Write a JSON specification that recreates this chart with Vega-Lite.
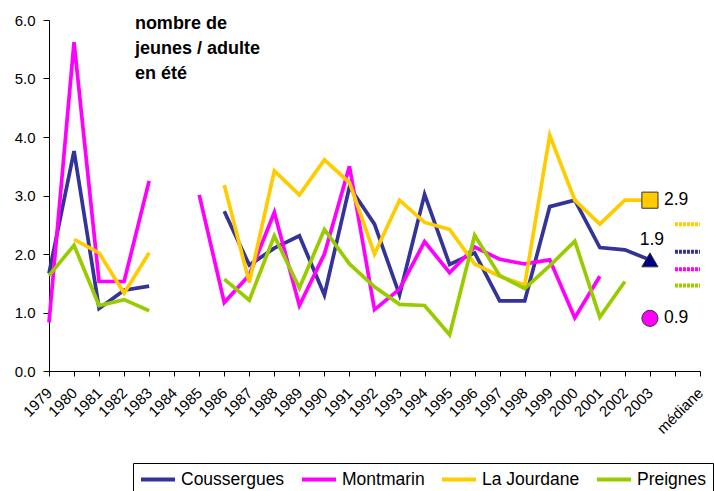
{
  "$schema": "https://vega.github.io/schema/vega-lite/v6.json",
  "width": 651,
  "height": 351,
  "autosize": {"type": "none"},
  "padding": {"left": 49, "top": 20, "right": 14, "bottom": 120},
  "background": "white",
  "config": {
    "view": {"stroke": null},
    "font": "Liberation Sans",
    "axis": {"domainColor": "black", "tickColor": "black", "labelColor": "black", "grid": false, "labelFont": "Liberation Sans"}
  },
  "datasets": {
    "series": [
      {"year": 1979, "site": "Coussergues", "value": 1.67},
      {"year": 1980, "site": "Coussergues", "value": 3.76},
      {"year": 1981, "site": "Coussergues", "value": 1.07},
      {"year": 1982, "site": "Coussergues", "value": 1.38},
      {"year": 1983, "site": "Coussergues", "value": 1.45},
      {"year": 1984, "site": "Coussergues", "value": null},
      {"year": 1985, "site": "Coussergues", "value": null},
      {"year": 1986, "site": "Coussergues", "value": 2.73},
      {"year": 1987, "site": "Coussergues", "value": 1.81},
      {"year": 1988, "site": "Coussergues", "value": 2.1},
      {"year": 1989, "site": "Coussergues", "value": 2.31},
      {"year": 1990, "site": "Coussergues", "value": 1.3},
      {"year": 1991, "site": "Coussergues", "value": 3.15},
      {"year": 1992, "site": "Coussergues", "value": 2.51},
      {"year": 1993, "site": "Coussergues", "value": 1.3},
      {"year": 1994, "site": "Coussergues", "value": 3.02},
      {"year": 1995, "site": "Coussergues", "value": 1.82},
      {"year": 1996, "site": "Coussergues", "value": 2.02},
      {"year": 1997, "site": "Coussergues", "value": 1.2},
      {"year": 1998, "site": "Coussergues", "value": 1.2},
      {"year": 1999, "site": "Coussergues", "value": 2.81},
      {"year": 2000, "site": "Coussergues", "value": 2.92},
      {"year": 2001, "site": "Coussergues", "value": 2.11},
      {"year": 2002, "site": "Coussergues", "value": 2.07},
      {"year": 2003, "site": "Coussergues", "value": 1.9},
      {"year": 1979, "site": "Montmarin", "value": 0.83},
      {"year": 1980, "site": "Montmarin", "value": 5.62},
      {"year": 1981, "site": "Montmarin", "value": 1.53},
      {"year": 1982, "site": "Montmarin", "value": 1.53},
      {"year": 1983, "site": "Montmarin", "value": 3.25},
      {"year": 1984, "site": "Montmarin", "value": null},
      {"year": 1985, "site": "Montmarin", "value": 3.01},
      {"year": 1986, "site": "Montmarin", "value": 1.17},
      {"year": 1987, "site": "Montmarin", "value": 1.64},
      {"year": 1988, "site": "Montmarin", "value": 2.71},
      {"year": 1989, "site": "Montmarin", "value": 1.12},
      {"year": 1990, "site": "Montmarin", "value": 2.0},
      {"year": 1991, "site": "Montmarin", "value": 3.5},
      {"year": 1992, "site": "Montmarin", "value": 1.05},
      {"year": 1993, "site": "Montmarin", "value": 1.4},
      {"year": 1994, "site": "Montmarin", "value": 2.21},
      {"year": 1995, "site": "Montmarin", "value": 1.68},
      {"year": 1996, "site": "Montmarin", "value": 2.12},
      {"year": 1997, "site": "Montmarin", "value": 1.91},
      {"year": 1998, "site": "Montmarin", "value": 1.83},
      {"year": 1999, "site": "Montmarin", "value": 1.9},
      {"year": 2000, "site": "Montmarin", "value": 0.91},
      {"year": 2001, "site": "Montmarin", "value": 1.62},
      {"year": 2002, "site": "Montmarin", "value": null},
      {"year": 2003, "site": "Montmarin", "value": 0.9},
      {"year": 1979, "site": "La Jourdane", "value": null},
      {"year": 1980, "site": "La Jourdane", "value": 2.25},
      {"year": 1981, "site": "La Jourdane", "value": 2.02},
      {"year": 1982, "site": "La Jourdane", "value": 1.33},
      {"year": 1983, "site": "La Jourdane", "value": 2.02},
      {"year": 1984, "site": "La Jourdane", "value": null},
      {"year": 1985, "site": "La Jourdane", "value": null},
      {"year": 1986, "site": "La Jourdane", "value": 3.18},
      {"year": 1987, "site": "La Jourdane", "value": 1.51},
      {"year": 1988, "site": "La Jourdane", "value": 3.42},
      {"year": 1989, "site": "La Jourdane", "value": 3.01},
      {"year": 1990, "site": "La Jourdane", "value": 3.61},
      {"year": 1991, "site": "La Jourdane", "value": 3.22},
      {"year": 1992, "site": "La Jourdane", "value": 2.0},
      {"year": 1993, "site": "La Jourdane", "value": 2.92},
      {"year": 1994, "site": "La Jourdane", "value": 2.54},
      {"year": 1995, "site": "La Jourdane", "value": 2.42},
      {"year": 1996, "site": "La Jourdane", "value": 1.83},
      {"year": 1997, "site": "La Jourdane", "value": 1.62},
      {"year": 1998, "site": "La Jourdane", "value": 1.47},
      {"year": 1999, "site": "La Jourdane", "value": 4.03},
      {"year": 2000, "site": "La Jourdane", "value": 2.92},
      {"year": 2001, "site": "La Jourdane", "value": 2.51},
      {"year": 2002, "site": "La Jourdane", "value": 2.92},
      {"year": 2003, "site": "La Jourdane", "value": 2.92},
      {"year": 1979, "site": "Preignes", "value": 1.63},
      {"year": 1980, "site": "Preignes", "value": 2.15},
      {"year": 1981, "site": "Preignes", "value": 1.12},
      {"year": 1982, "site": "Preignes", "value": 1.22},
      {"year": 1983, "site": "Preignes", "value": 1.03},
      {"year": 1984, "site": "Preignes", "value": null},
      {"year": 1985, "site": "Preignes", "value": null},
      {"year": 1986, "site": "Preignes", "value": 1.57},
      {"year": 1987, "site": "Preignes", "value": 1.21},
      {"year": 1988, "site": "Preignes", "value": 2.31},
      {"year": 1989, "site": "Preignes", "value": 1.42},
      {"year": 1990, "site": "Preignes", "value": 2.42},
      {"year": 1991, "site": "Preignes", "value": 1.83},
      {"year": 1992, "site": "Preignes", "value": 1.44},
      {"year": 1993, "site": "Preignes", "value": 1.14},
      {"year": 1994, "site": "Preignes", "value": 1.12},
      {"year": 1995, "site": "Preignes", "value": 0.62},
      {"year": 1996, "site": "Preignes", "value": 2.32},
      {"year": 1997, "site": "Preignes", "value": 1.63},
      {"year": 1998, "site": "Preignes", "value": 1.41},
      {"year": 1999, "site": "Preignes", "value": 1.8},
      {"year": 2000, "site": "Preignes", "value": 2.22},
      {"year": 2001, "site": "Preignes", "value": 0.92},
      {"year": 2002, "site": "Preignes", "value": 1.53},
      {"year": 2003, "site": "Preignes", "value": null}
    ],
    "medians": [
      {"site": "La Jourdane", "median": 2.51},
      {"site": "Coussergues", "median": 2.04},
      {"site": "Montmarin", "median": 1.74},
      {"site": "Preignes", "median": 1.46}
    ]
  },
  "encoding": {
    "x": {
      "type": "quantitative",
      "scale": {"domain": [1979, 2005], "nice": false, "zero": false},
      "axis": {
        "title": null,
        "values": [1979,1980,1981,1982,1983,1984,1985,1986,1987,1988,1989,1990,1991,1992,1993,1994,1995,1996,1997,1998,1999,2000,2001,2002,2003,2004,2005],
        "labelExpr": "datum.value == 2005 ? 'médiane' : (datum.value == 2004 ? '' : toString(datum.value))",
        "labelAngle": -45,
        "labelAlign": "right",
        "labelBaseline": "middle",
        "labelFontSize": 15,
        "labelPadding": 14,
        "tickSize": 5,
        "labelOverlap": false,
        "labelBound": false,
        "labelFlush": false
      }
    },
    "y": {
      "type": "quantitative",
      "scale": {"domain": [0, 6], "nice": false},
      "axis": {
        "title": null,
        "values": [0, 1, 2, 3, 4, 5, 6],
        "format": ".1f",
        "labelFontSize": 15,
        "tickSize": 6,
        "labelPadding": 8
      }
    }
  },
  "layer": [
    {
      "data": {"name": "series"},
      "mark": {"type": "line", "strokeWidth": 3.7, "invalid": "break-paths-show-domains"},
      "encoding": {
        "x": {"field": "year"},
        "y": {"field": "value"},
        "color": {
          "field": "site", "type": "nominal",
          "scale": {
            "domain": ["Coussergues", "Montmarin", "La Jourdane", "Preignes"],
            "range": ["#333399", "#FF00FF", "#FFCC00", "#99CC00"]
          },
          "legend": {
            "title": null,
            "orient": "none",
            "legendX": 84,
            "legendY": 443,
            "direction": "horizontal",
            "symbolType": "M-1,0H3",
            "symbolSize": 289,
            "symbolStrokeWidth": 4,
            "labelFontSize": 17.5,
            "labelFont": "Liberation Sans",
            "labelColor": "black",
            "labelOffset": 21,
            "columnPadding": 9,
            "padding": 6,
            "strokeColor": "black",
            "fillColor": "white",
            "labelLimit": 300
          }
        }
      }
    },
    {
      "data": {"name": "medians"},
      "mark": {"type": "rule", "strokeWidth": 4, "strokeDash": [3, 1]},
      "encoding": {
        "x": {"datum": 2004},
        "x2": {"datum": 2005},
        "y": {"field": "median"},
        "color": {"field": "site", "type": "nominal"}
      }
    },
    {
      "data": {"name": "series"},
      "transform": [
        {"filter": "datum.year == 2003 && datum.value != null && datum.site != 'Preignes'"}
      ],
      "mark": {"type": "point", "filled": true, "size": 260, "stroke": "#333333", "strokeWidth": 1, "opacity": 1},
      "encoding": {
        "x": {"field": "year"},
        "y": {"field": "value"},
        "fill": {
          "field": "site", "type": "nominal",
          "scale": {"domain": ["Coussergues", "Montmarin", "La Jourdane"], "range": ["#000080", "#FF00FF", "#FFCC00"]},
          "legend": null
        },
        "shape": {
          "field": "site", "type": "nominal",
          "scale": {"domain": ["Coussergues", "Montmarin", "La Jourdane"], "range": ["triangle-up", "circle", "square"]},
          "legend": null
        }
      }
    },
    {
      "data": {"name": "series"},
      "transform": [
        {"filter": "datum.year == 2003 && (datum.site == 'La Jourdane' || datum.site == 'Montmarin')"}
      ],
      "mark": {"type": "text", "align": "left", "baseline": "middle", "dx": 14, "fontSize": 17.5, "font": "Liberation Sans", "color": "black"},
      "encoding": {
        "x": {"field": "year"},
        "y": {"field": "value"},
        "text": {"field": "value", "type": "quantitative", "format": ".1f"}
      }
    },
    {
      "data": {"name": "series"},
      "transform": [
        {"filter": "datum.year == 2003 && datum.site == 'Coussergues'"}
      ],
      "mark": {"type": "text", "align": "center", "baseline": "alphabetic", "dx": 2, "dy": -15, "fontSize": 17.5, "font": "Liberation Sans", "color": "black"},
      "encoding": {
        "x": {"field": "year"},
        "y": {"field": "value"},
        "text": {"field": "value", "type": "quantitative", "format": ".1f"}
      }
    },
    {
      "data": {"values": [{}]},
      "mark": {"type": "text", "align": "left", "baseline": "alphabetic", "fontSize": 18, "fontWeight": "bold", "font": "Liberation Sans", "lineHeight": 25, "color": "black"},
      "encoding": {
        "x": {"datum": 1982.43},
        "y": {"datum": 5.85},
        "text": {"value": ["nombre de", "jeunes / adulte", "en été"]}
      }
    }
  ]
}
